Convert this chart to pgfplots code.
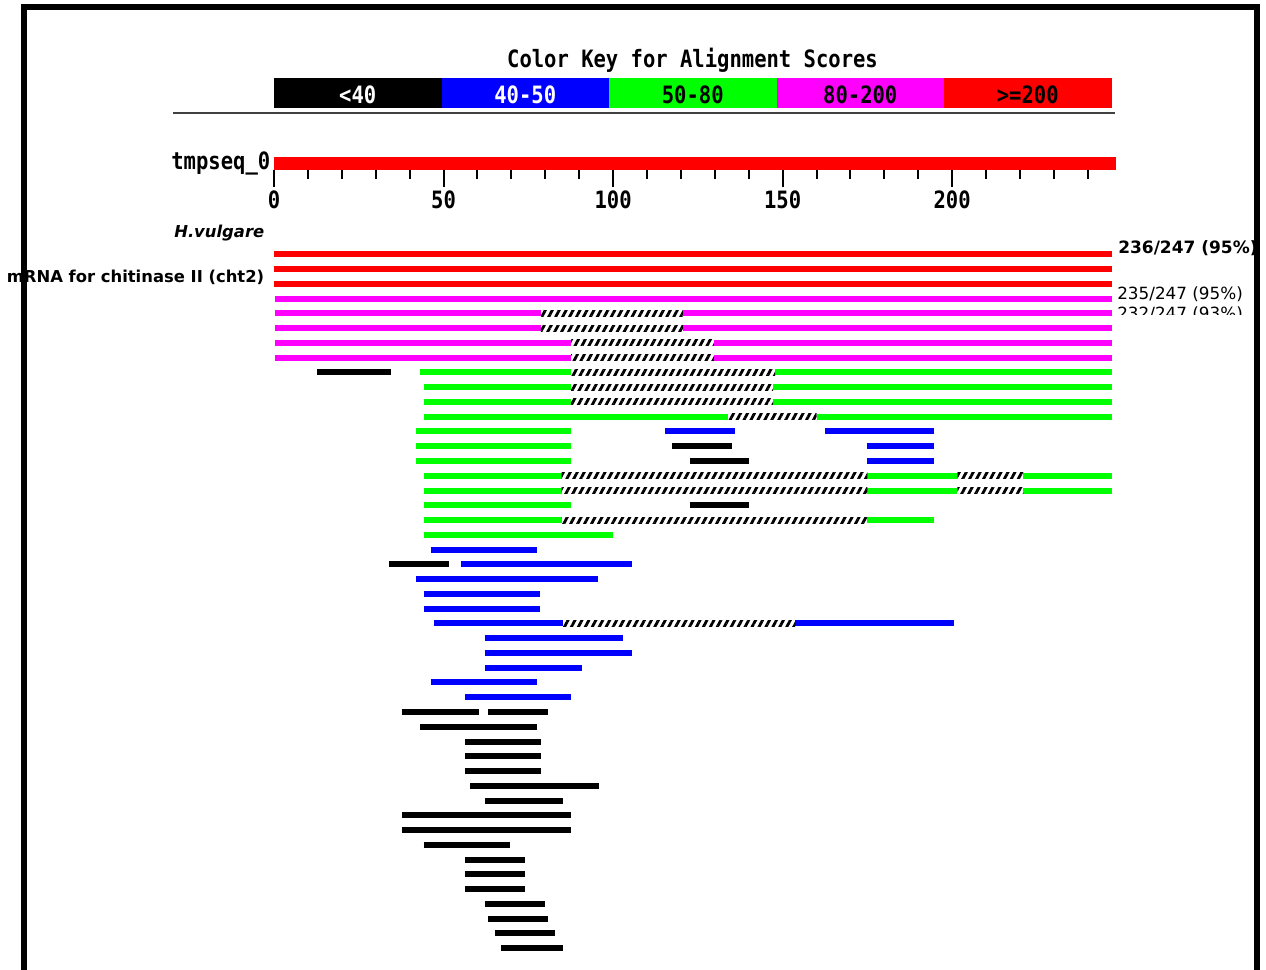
\documentclass[border=0pt]{standalone}
\usepackage{fontspec}
\setmainfont{DejaVu Sans}[ItalicFont={DejaVu Sans Oblique},BoldFont={DejaVu Sans Bold},BoldItalicFont={DejaVu Sans Bold Oblique}]
\newfontfamily\pix[FakeStretch=0.86]{DejaVu Sans Mono Bold}
\usepackage{pgfplots}
\pgfplotsset{compat=1.18}
\usetikzlibrary{patterns.meta}
\definecolor{kRed}{RGB}{255,0,0}
\definecolor{kMag}{RGB}{255,0,255}
\definecolor{kGreen}{RGB}{0,255,0}
\definecolor{kBlue}{RGB}{0,0,255}
\newcommand\pixfont{\pix\fontsize{17.9}{20}\selectfont}
\newcommand\hatch[4]{\addplot[draw=none, pattern={Lines[angle=62,distance=4.6pt,line width=2.1pt]}, pattern color=black] coordinates {(#3,#1) (#4,#1) (#4,#2) (#3,#2)} -- cycle;}
\begin{document}
\begin{tikzpicture}
\begin{axis}[at={(0,0)}, anchor=south west, scale only axis,
  width=949.5pt, height=727.5pt,
  xmin=-80.81, xmax=292.56, ymin=-16.223, ymax=49.473, y dir=reverse,
  axis lines=none, clip=false]
% query bar
\addplot[kRed, line width=10pt, quiver={u=\thisrow{x2}-\thisrow{x}, v=0}] table[x=x,y=y] {
x y x2
0 -5.16 248.2
};
% ruler ticks
\addplot[black, line width=1.5pt, quiver={u=0, v=\thisrow{len}}] table[x=x,y=y] {
x y len
0 -4.709 1.131
10 -4.709 0.63
20 -4.709 0.63
30 -4.709 0.63
40 -4.709 0.63
50 -4.709 1.131
60 -4.709 0.63
70 -4.709 0.63
80 -4.709 0.63
90 -4.709 0.63
100 -4.709 1.131
110 -4.709 0.63
120 -4.709 0.63
130 -4.709 0.63
140 -4.709 0.63
150 -4.709 1.131
160 -4.709 0.63
170 -4.709 0.63
180 -4.709 0.63
190 -4.709 0.63
200 -4.709 1.131
210 -4.709 0.63
220 -4.709 0.63
230 -4.709 0.63
240 -4.709 0.63
};
% score >= 200
\addplot[kRed, line width=4.5pt, quiver={u=\thisrow{x2}-\thisrow{x}, v=0}] table[x=x,y=y] {
x y x2
0 1 247
0 2 247
0 3 247
};
% 80-200
\addplot[kMag, line width=4.5pt, quiver={u=\thisrow{x2}-\thisrow{x}, v=0}] table[x=x,y=y] {
x y x2
0.3 4 247
0.3 5 78.7
120.6 5 247
0.3 6 78.7
120.6 6 247
0.3 7 87.6
129.7 7 247
0.3 8 87.6
129.7 8 247
};
% 50-80
\addplot[kGreen, line width=4.5pt, quiver={u=\thisrow{x2}-\thisrow{x}, v=0}] table[x=x,y=y] {
x y x2
43.1 9 87.6
147.8 9 247
44.2 10 87.6
147.2 10 247
44.2 11 87.6
147.2 11 247
44.2 12 134
160 12 247
42 13 87.6
42 14 87.6
42 15 87.6
44.2 16 84.8
175 16 201.5
221 16 247
44.2 17 84.8
175 17 201.5
221 17 247
44.2 18 87.6
44.2 19 84.8
175 19 194.5
44.2 20 99.9
};
% 40-50
\addplot[kBlue, line width=4.5pt, quiver={u=\thisrow{x2}-\thisrow{x}, v=0}] table[x=x,y=y] {
x y x2
115.3 13 136
162.6 13 194.5
175 14 194.5
175 15 194.5
46.2 21 77.6
55.2 22 105.6
42 23 95.6
44.2 24 78.5
44.2 25 78.5
47.2 26 85.3
153.7 26 200.4
62.1 27 103
62.1 28 105.6
62.1 29 90.8
46.2 30 77.6
56.4 31 87.6
};
% < 40
\addplot[black, line width=4.5pt, quiver={u=\thisrow{x2}-\thisrow{x}, v=0}] table[x=x,y=y] {
x y x2
12.7 9 34.4
117.4 14 135
122.7 15 140.2
122.7 18 140.2
33.9 22 51.5
37.7 32 60.5
63.2 32 80.8
43 33 77.6
56.3 34 78.6
56.3 35 78.6
56.3 36 78.6
57.9 37 95.7
62.2 38 85.1
37.7 39 87.7
37.7 40 87.7
44.1 41 69.6
56.3 42 73.9
56.3 43 73.9
56.3 44 73.9
62.2 45 79.8
63.2 46 80.8
65.3 47 82.9
67 48 85.1
};
% gaps (hatched)
\hatch{4.8}{5.2}{78.7}{120.6}
\hatch{5.8}{6.2}{78.7}{120.6}
\hatch{6.8}{7.2}{87.6}{129.7}
\hatch{7.8}{8.2}{87.6}{129.7}
\hatch{8.8}{9.2}{87.6}{147.8}
\hatch{9.8}{10.2}{87.6}{147.2}
\hatch{10.8}{11.2}{87.6}{147.2}
\hatch{11.8}{12.2}{134}{160}
\hatch{15.8}{16.2}{84.8}{175}
\hatch{15.8}{16.2}{201.5}{221}
\hatch{16.8}{17.2}{84.8}{175}
\hatch{16.8}{17.2}{201.5}{221}
\hatch{18.8}{19.2}{84.8}{175}
\hatch{25.8}{26.2}{85.3}{153.7}
\end{axis}
\begin{scope}[x=0.75pt, y=-0.75pt, shift={(0pt,727.5pt)}, every node/.style={inner sep=0pt}]
% colour key
\node[anchor=base, font=\pixfont] at (692.5,67.3) {Color Key for Alignment Scores};
\fill[black]  (274,78) rectangle (441.5,107.7);
\fill[kBlue]  (441.5,78) rectangle (609,107.7);
\fill[kGreen] (609,78) rectangle (776.5,107.7);
\fill[kMag]   (776.5,78) rectangle (944,107.7);
\fill[kRed]   (944,78) rectangle (1111.5,107.7);
\node[anchor=base, font=\pixfont, white] at (357.75,103.3) {<40};
\node[anchor=base, font=\pixfont, white] at (525.25,103.3) {40-50};
\node[anchor=base, font=\pixfont] at (692.75,103.3) {50-80};
\node[anchor=base, font=\pixfont] at (860.25,103.3) {80-200};
\node[anchor=base, font=\pixfont] at (1027.75,103.3) {>=200};
\draw[black!75, line width=1.5pt] (173,113.3) -- (1115,113.3);
% query label and ruler numbers
\node[anchor=base east, font=\pixfont] at (270.5,169.3) {tmpseq\_0};
\foreach \v in {0,50,100,150,200} \node[anchor=base, font=\pixfont] at ({274+\v*3.3907},208.5) {\v};
% hit labels
\node[anchor=base east, font=\bfseries\itshape\fontsize{12.3}{14}\selectfont] at (264.5,238) {H.vulgare};
\node[anchor=base east, font=\bfseries\fontsize{12.3}{14}\selectfont] at (264.5,283) {mRNA for chitinase II (cht2)};
\node[anchor=base west, font=\bfseries\fontsize{12.75}{15}\selectfont] at (1118,254) {236/247 (95\%)};
\node[anchor=base west, font=\fontsize{12.6}{15}\selectfont] at (1117,299.3) {235/247 (95\%)};
\begin{scope}
\clip (1100,302) rectangle (1250,314.5);
\node[anchor=base west, font=\fontsize{12.6}{15}\selectfont] at (1117,319.5) {232/247 (93\%)};
\end{scope}
% frame
\draw[black, line width=4.1pt] (24,990) -- (24,7) -- (1257,7) -- (1257,990);
\end{scope}
\pgfresetboundingbox
\path[use as bounding box] (0,0) rectangle (949.5pt,727.5pt);
\end{tikzpicture}
\end{document}
